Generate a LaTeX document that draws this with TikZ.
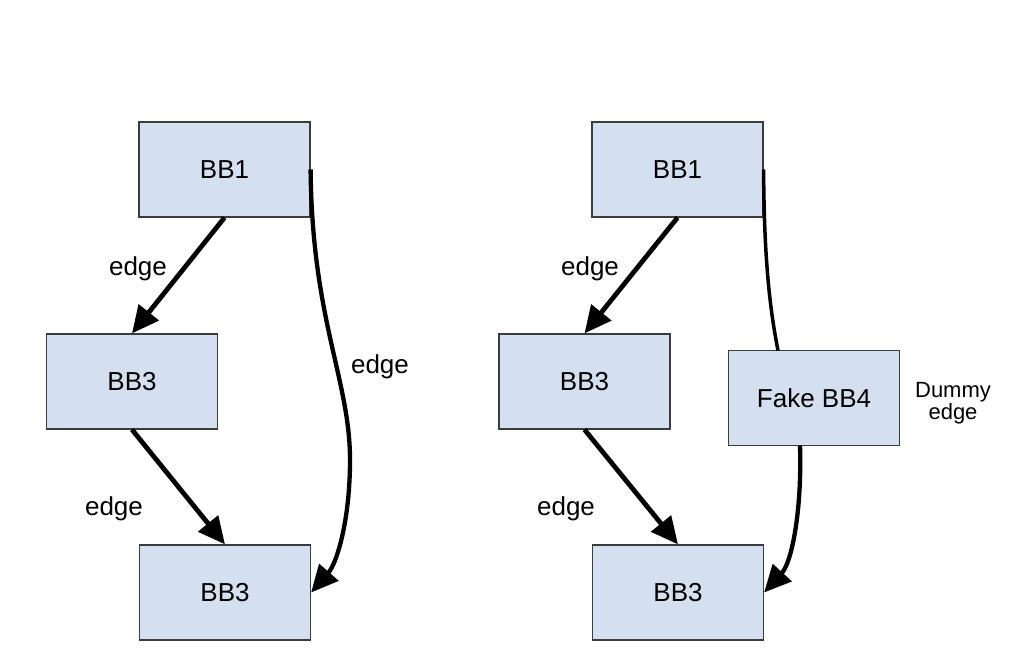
\documentclass[tikz,border=0pt]{standalone}
\usepackage{fontspec}
\setmainfont{Liberation Sans}
\usetikzlibrary{arrows.meta}
\definecolor{boxfill}{RGB}{212,224,239}
\definecolor{boxline}{RGB}{60,60,60}
\begin{document}
\begin{tikzpicture}[x=1pt,y=-1pt,
  bb/.style={draw=boxline,line width=1.2pt,fill=boxfill,minimum width=171pt,minimum height=95pt,inner sep=0pt,font=\fontsize{26}{28}\selectfont},
  lbl/.style={inner sep=0pt,font=\fontsize{26}{28}\selectfont},
  conn/.style={line width=4.8pt,-{Triangle[length=27pt,width=25pt]}},
  plain/.style={line width=3.5pt}]
\useasboundingbox (0,0) rectangle (1032,668);
% left
\node[bb] (l1) at (224.5,169.5) {BB1};
\node[bb] (l3) at (132,381.5) {BB3};
\node[bb] (l3b) at (225,592.5) {BB3};
\draw[conn] (l1.south) -- (l3.north);
\draw[conn] (l3.south) -- (l3b.north);
\draw[conn,line width=4.3pt] (l1.east) .. controls (312,320) and (350,380) .. (350,460) .. controls (350,520) and (337,563) .. (l3b.east);
\node[lbl] (e1) at (138,269) {edge};
\node[lbl] (e2) at (380,367) {edge};
\node[lbl] (e3) at (114,509) {edge};
% right
\node[bb] (r1) at (677.5,169.5) {BB1};
\node[bb] (r3) at (584.5,381.5) {BB3};
\node[bb] (r3b) at (678,592.5) {BB3};
\node[bb] (r4) at (814,398) {Fake BB4};
\coordinate (r4in) at (778,350.5);
\coordinate (r4out) at (800,445.5);
\draw[conn] (r1.south) -- (r3.north);
\draw[conn] (r3.south) -- (r3b.north);
\draw[plain] (r1.east) .. controls (764,260) and (770,310) .. (r4in);
\draw[conn,line width=4.3pt] (r4out) .. controls (802,510) and (792,562) .. (r3b.east);
\node[lbl] (e4) at (590,269) {edge};
\node[lbl] (e5) at (566,509) {edge};
\node[inner sep=0pt,align=center,font=\fontsize{22}{19}\selectfont] (de) at (953,403) {Dummy\\edge};
\end{tikzpicture}
\end{document}
